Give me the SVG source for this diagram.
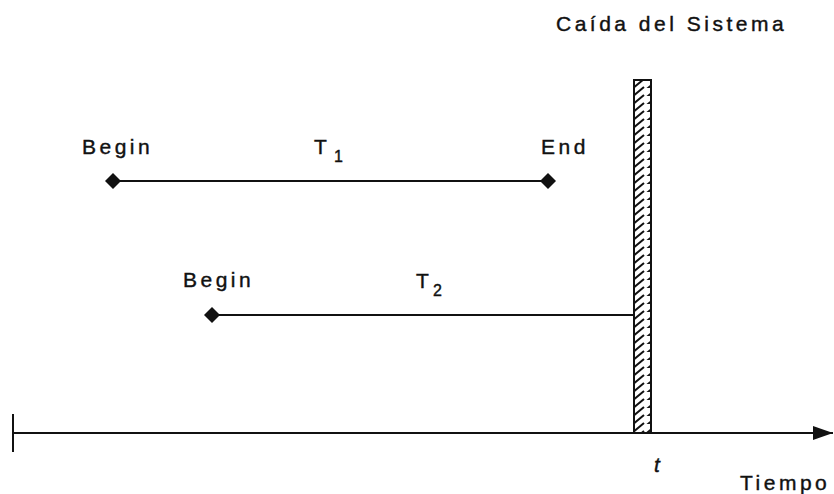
<svg xmlns="http://www.w3.org/2000/svg" width="834" height="494" viewBox="0 0 834 494">
<style>
.t{font-family:"Liberation Sans",Arial,sans-serif;font-size:21px;fill:#111;stroke:#111;stroke-width:0.4;letter-spacing:3.5px}
.s{font-family:"Liberation Sans",Arial,sans-serif;font-size:16px;fill:#111;stroke:#111;stroke-width:0.4}
.ln{stroke:#111;stroke-width:2;fill:none}
</style>
<defs>
<pattern id="hatch" patternUnits="userSpaceOnUse" width="17" height="8" patternTransform="translate(634,80)">
<path d="M-2,9 L10,-1 M8,13 L20,3 M-12,5 L0,-5 M-2,17 L10,7" stroke="#111" stroke-width="2"/>
</pattern>
<marker id="arr" markerWidth="20" markerHeight="16" refX="20" refY="8" orient="auto" markerUnits="userSpaceOnUse">
<path d="M0,1 L20,8 L0,15 Z" fill="#111"/>
</marker>
</defs>
<g id="axis">
<line class="ln" x1="13" y1="433" x2="833" y2="433" marker-end="url(#arr)"/>
<line class="ln" x1="13" y1="414" x2="13" y2="452"/>
<text class="t" x="654" y="472" font-style="italic" letter-spacing="0">t</text>
<text class="t" x="740" y="490" letter-spacing="2.5">Tiempo</text>
</g>
<g id="crash">
<rect x="634" y="80" width="17" height="353" fill="url(#hatch)" stroke="#111" stroke-width="2"/>
<text class="t" x="556" y="31" letter-spacing="3">Caída del Sistema</text>
</g>
<g id="connectors">
<line class="ln" x1="113" y1="181" x2="548" y2="181"/>
<line class="ln" x1="212" y1="315" x2="633" y2="315"/>
</g>
<g id="T1">
<path d="M113,173 L121,181 L113,189 L105,181 Z" fill="#111"/>
<path d="M548,173 L556,181 L548,189 L540,181 Z" fill="#111"/>
<text class="t" x="82" y="154">Begin</text>
<text class="t" x="541" y="154">End</text>
<text class="t" x="314" y="154" letter-spacing="0">T</text>
<text class="s" x="334" y="162">1</text>
</g>
<g id="T2">
<path d="M212,307 L220,315 L212,323 L204,315 Z" fill="#111"/>
<text class="t" x="183" y="287">Begin</text>
<text class="t" x="416" y="288" letter-spacing="0">T</text>
<text class="s" x="433" y="296">2</text>
</g>
</svg>
